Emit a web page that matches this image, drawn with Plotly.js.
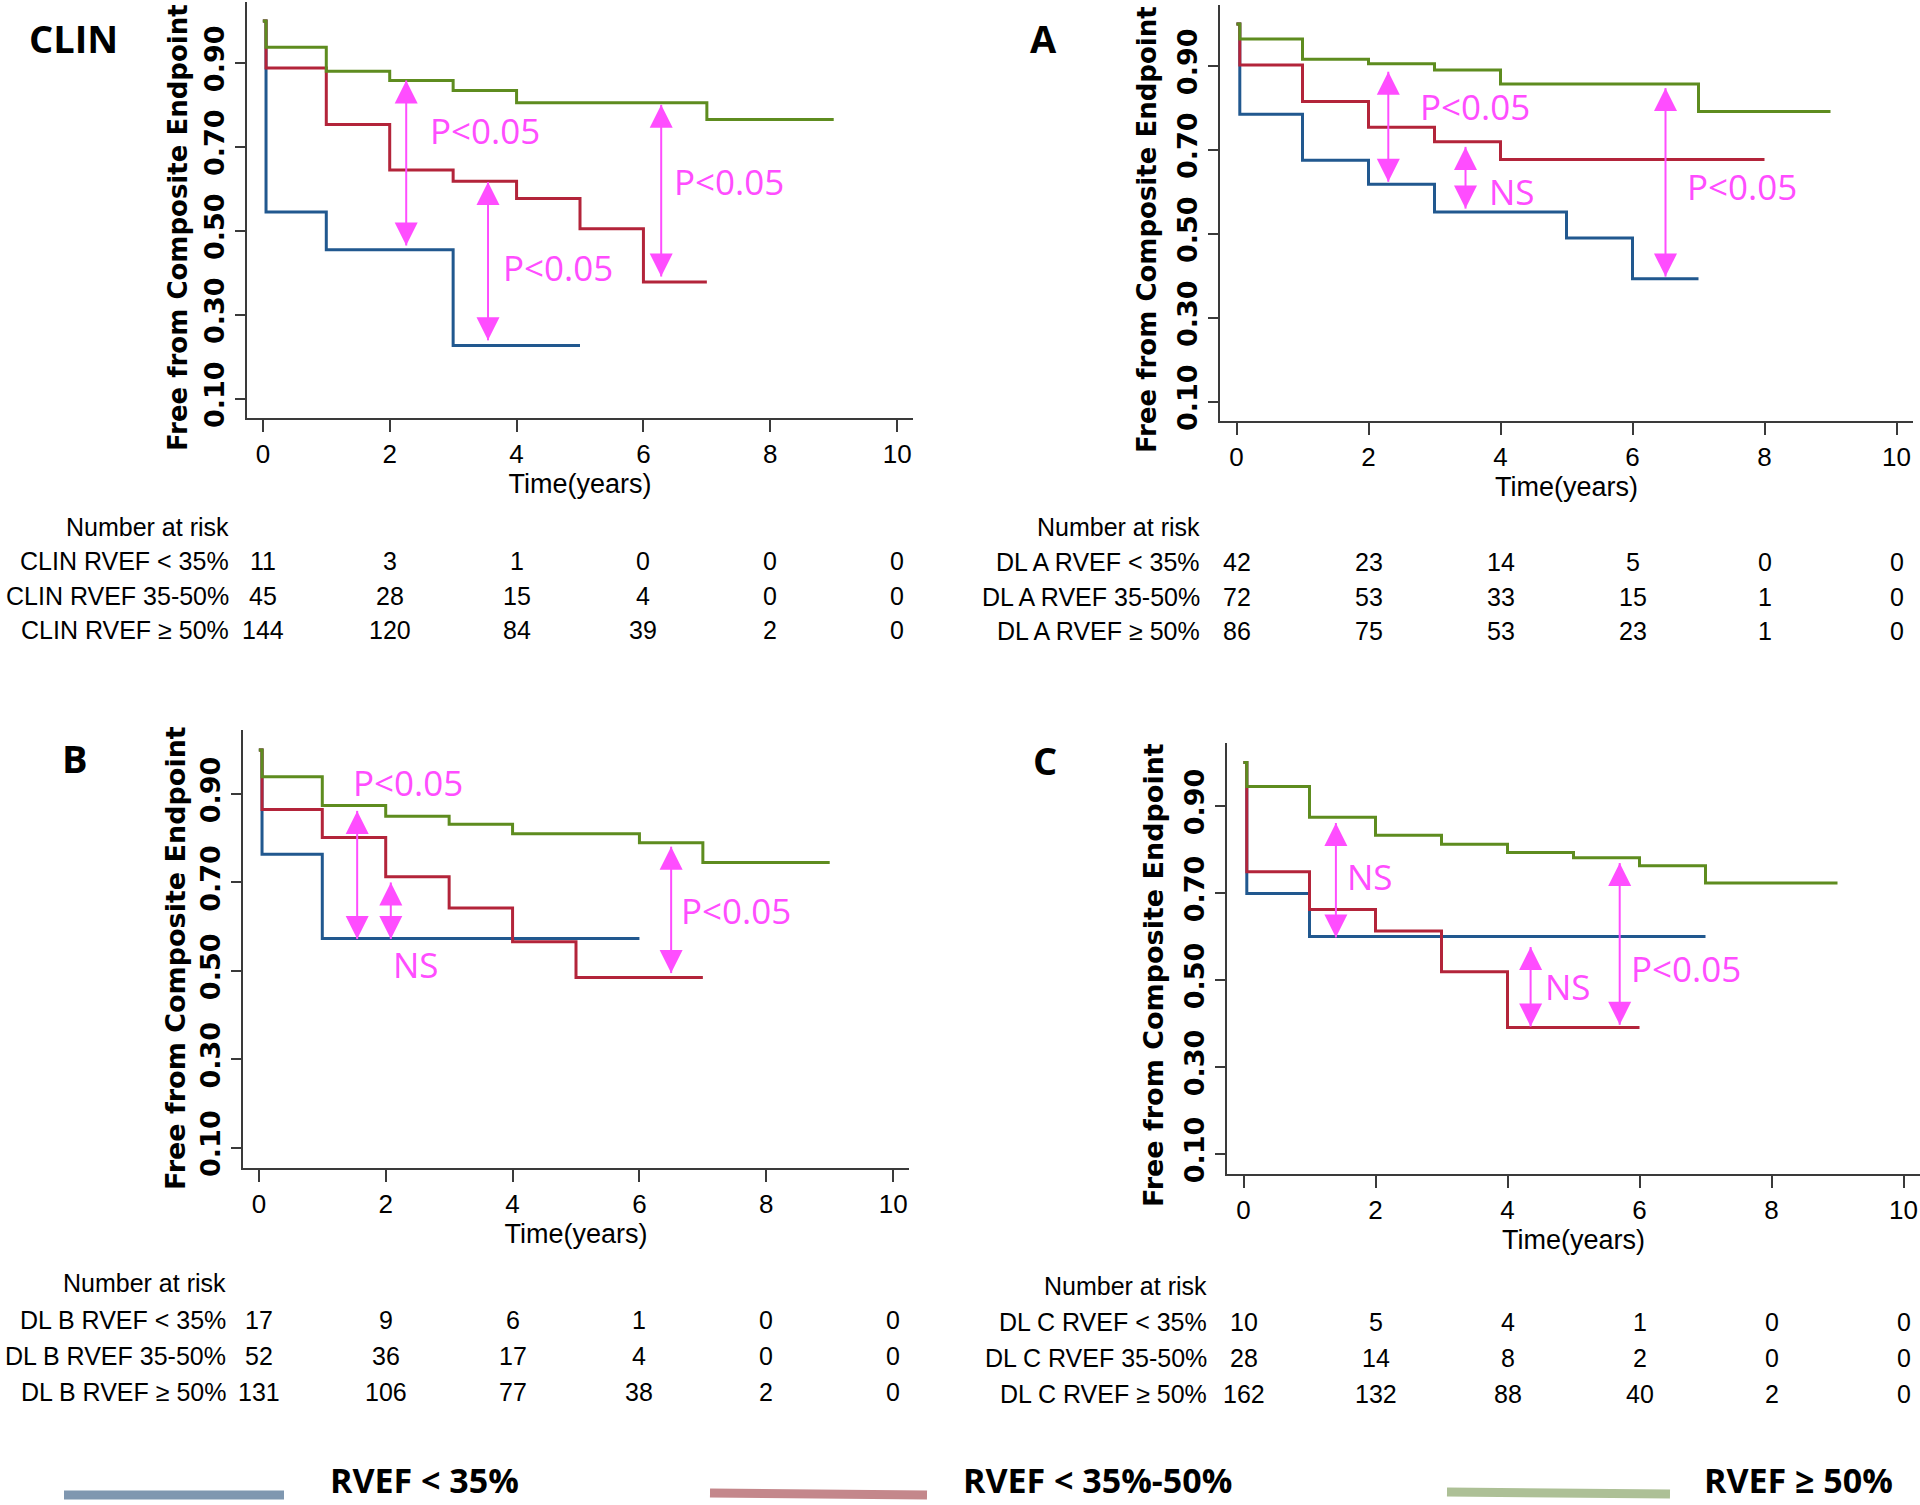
<!DOCTYPE html>
<html>
<head>
<meta charset="utf-8">
<script src="https://cdn.plot.ly/plotly-3.0.1.min.js"></script>
<style>
  html, body { margin: 0; padding: 0; background: #fff; }
  #chart { width: 1920px; height: 1505px; }
</style>
</head>
<body>
<div id="chart"></div>
<script>
// ---------- data ----------
const riskTimes = [0, 2, 4, 6, 8, 10];
const yTicks = [0.1, 0.3, 0.5, 0.7, 0.9];
const groupNames = ['RVEF < 35%', 'RVEF 35-50%', 'RVEF \u2265 50%'];
const legendNames = ['RVEF < 35%', 'RVEF < 35%-50%', 'RVEF \u2265 50%'];

// CLIN
const clinLowT = [0, 0.05, 1, 3, 5];
const clinLowS = [1, 0.545, 0.455, 0.227, 0.227];
const clinMidT = [0, 0.05, 1, 2, 3, 4, 5, 6, 7];
const clinMidS = [1, 0.888, 0.753, 0.645, 0.618, 0.577, 0.505, 0.378, 0.378];
const clinHighT = [0, 0.05, 1, 2, 3, 4, 7, 9];
const clinHighS = [1, 0.937, 0.880, 0.858, 0.834, 0.805, 0.765, 0.765];
const clinRiskLow = [11, 3, 1, 0, 0, 0];
const clinRiskMid = [45, 28, 15, 4, 0, 0];
const clinRiskHigh = [144, 120, 84, 39, 2, 0];
const clinArrowX = [2.26, 3.55, 6.28];
const clinArrowTop = [0.858, 0.616, 0.800];
const clinArrowBot = [0.465, 0.239, 0.391];
const clinNoteX = [2.6, 3.75, 6.45];
const clinNoteY = [0.739, 0.413, 0.618];
const clinNoteText = ['P<0.05', 'P<0.05', 'P<0.05'];

// DL A
const aLowT = [0, 0.05, 1, 2, 3, 5, 6, 7];
const aLowS = [1, 0.785, 0.675, 0.618, 0.552, 0.490, 0.393, 0.393];
const aMidT = [0, 0.05, 1, 2, 3, 4, 8];
const aMidS = [1, 0.902, 0.815, 0.754, 0.719, 0.677, 0.677];
const aHighT = [0, 0.05, 1, 2, 3, 4, 7, 9];
const aHighS = [1, 0.964, 0.916, 0.905, 0.890, 0.857, 0.791, 0.791];
const aRiskLow = [42, 23, 14, 5, 0, 0];
const aRiskMid = [72, 53, 33, 15, 1, 0];
const aRiskHigh = [86, 75, 53, 23, 1, 0];
const aArrowX = [2.30, 3.47, 6.50];
const aArrowTop = [0.886, 0.707, 0.847];
const aArrowBot = [0.624, 0.560, 0.398];
const aNoteX = [2.75, 3.79, 6.79];
const aNoteY = [0.804, 0.600, 0.612];
const aNoteText = ['P<0.05', 'NS', 'P<0.05'];

// DL B
const bLowT = [0, 0.05, 1, 6];
const bLowS = [1, 0.764, 0.573, 0.573];
const bMidT = [0, 0.05, 1, 2, 3, 4, 5, 7];
const bMidS = [1, 0.865, 0.802, 0.713, 0.642, 0.566, 0.485, 0.485];
const bHighT = [0, 0.05, 1, 2, 3, 4, 6, 7, 9];
const bHighS = [1, 0.939, 0.874, 0.850, 0.832, 0.810, 0.790, 0.745, 0.745];
const bRiskLow = [17, 9, 6, 1, 0, 0];
const bRiskMid = [52, 36, 17, 4, 0, 0];
const bRiskHigh = [131, 106, 77, 38, 2, 0];
const bArrowX = [1.55, 2.08, 6.50];
const bArrowTop = [0.862, 0.700, 0.781];
const bArrowBot = [0.572, 0.572, 0.495];
const bNoteX = [1.46, 2.09, 6.63];
const bNoteY = [0.927, 0.515, 0.636];
const bNoteText = ['P<0.05', 'NS', 'P<0.05'];

// DL C
const cLowT = [0, 0.05, 1, 7];
const cLowS = [1, 0.699, 0.600, 0.600];
const cMidT = [0, 0.05, 1, 2, 3, 4, 6];
const cMidS = [1, 0.749, 0.662, 0.613, 0.519, 0.391, 0.391];
const cHighT = [0, 0.05, 1, 2, 3, 4, 5, 6, 7, 9];
const cHighS = [1, 0.945, 0.874, 0.833, 0.812, 0.793, 0.781, 0.763, 0.723, 0.723];
const cRiskLow = [10, 5, 4, 1, 0, 0];
const cRiskMid = [28, 14, 8, 2, 0, 0];
const cRiskHigh = [162, 132, 88, 40, 2, 0];
const cArrowX = [1.40, 4.35, 5.70];
const cArrowTop = [0.861, 0.576, 0.769];
const cArrowBot = [0.598, 0.393, 0.397];
const cNoteX = [1.54, 4.54, 5.84];
const cNoteY = [0.737, 0.484, 0.527];
const cNoteText = ['NS', 'NS', 'P<0.05'];

// ---------- look ----------
const W = 1920, H = 1505;
const px = v => v / W;
const py = v => 1 - v / H;

const lineColors = ['#21588f', '#b3243a', '#5e8c1f'];
const legendColors = ['#7f97b0', '#c4878b', '#adc096'];
const magenta = '#ff4dff';
const axisColor = '#3a3a3a';
const sans = 'Liberation Sans, Arial, sans-serif';

const panels = [
  { letter: 'CLIN', letterPos: [27, 38], prefix: 'CLIN', xa: 'x', ya: 'y', box: [247, 913, 2, 418], xmax: 10.25,
    yTitle: [178, 228, 26], tableRight: 231, tableY: [527, 561, 596, 630],
    curves: [[clinLowT, clinLowS], [clinMidT, clinMidS], [clinHighT, clinHighS]],
    risk: [clinRiskLow, clinRiskMid, clinRiskHigh],
    arrows: [clinArrowX, clinArrowTop, clinArrowBot], notes: [clinNoteX, clinNoteY, clinNoteText] },
  { letter: 'A', letterPos: [1028, 38], prefix: 'DL A', xa: 'x2', ya: 'y2', box: [1220, 1913, 5, 421], xmax: 10.25,
    yTitle: [1147, 230, 26], tableRight: 1202, tableY: [527, 562, 597, 631],
    curves: [[aLowT, aLowS], [aMidT, aMidS], [aHighT, aHighS]],
    risk: [aRiskLow, aRiskMid, aRiskHigh],
    arrows: [aArrowX, aArrowTop, aArrowBot], notes: [aNoteX, aNoteY, aNoteText] },
  { letter: 'B', letterPos: [60, 758], prefix: 'DL B', xa: 'x3', ya: 'y3', box: [243, 909, 730, 1168], xmax: 10.25,
    yTitle: [175, 958, 27], tableRight: 228, tableY: [1283, 1320, 1356, 1392],
    curves: [[bLowT, bLowS], [bMidT, bMidS], [bHighT, bHighS]],
    risk: [bRiskLow, bRiskMid, bRiskHigh],
    arrows: [bArrowX, bArrowTop, bArrowBot], notes: [bNoteX, bNoteY, bNoteText] },
  { letter: 'C', letterPos: [1031, 760], prefix: 'DL C', xa: 'x4', ya: 'y4', box: [1227, 1920, 743, 1174], xmax: 10.25,
    yTitle: [1153, 975, 27], tableRight: 1209, tableY: [1286, 1322, 1358, 1394],
    curves: [[cLowT, cLowS], [cMidT, cMidS], [cHighT, cHighS]],
    risk: [cRiskLow, cRiskMid, cRiskHigh],
    arrows: [cArrowX, cArrowTop, cArrowBot], notes: [cNoteX, cNoteY, cNoteText] }
];

const traces = [];
const annotations = [];
const layout = {
  width: W, height: H,
  margin: { l: 0, r: 0, t: 0, b: 0 },
  paper_bgcolor: '#fff', plot_bgcolor: '#fff',
  showlegend: false,
  font: { family: sans, color: '#000' },
  shapes: [],
  annotations: annotations
};

panels.forEach((p, i) => {
  const n = i === 0 ? '' : String(i + 1);
  layout['xaxis' + n] = {
    domain: [px(p.box[0]), px(p.box[1])],
    anchor: p.ya,
    range: [-0.25, p.xmax],
    tickvals: riskTimes,
    ticks: 'outside', ticklen: 12, tickwidth: 2, tickcolor: axisColor,
    showline: true, linewidth: 2, linecolor: axisColor,
    showgrid: false, zeroline: false,
    tickfont: { family: sans, size: 26, color: '#000' },
    title: { text: 'Time(years)', font: { family: sans, size: 27, color: '#000' }, standoff: 2 }
  };
  layout['yaxis' + n] = {
    domain: [py(p.box[3]), py(p.box[2])],
    anchor: p.xa,
    range: [0.054, 1.045],
    tickvals: yTicks,
    tickformat: '.2f',
    tickangle: -90,
    ticks: 'outside', ticklen: 10, tickwidth: 2, tickcolor: axisColor,
    showline: true, linewidth: 2, linecolor: axisColor,
    showgrid: false, zeroline: false,
    tickfont: { family: 'DejaVu Sans', size: 27, weight: 'bold', color: '#000' }
  };

  // y axis title, placed like the original (it runs past the plot bottom)
  annotations.push({
    xref: 'paper', yref: 'paper', x: px(p.yTitle[0]), y: py(p.yTitle[1]),
    text: 'Free from Composite Endpoint', textangle: -90, showarrow: false,
    xanchor: 'center', yanchor: 'middle',
    font: { family: 'DejaVu Sans', size: p.yTitle[2], weight: 'bold', color: '#000' }
  });

  // survival curves
  p.curves.forEach((c, k) => {
    traces.push({
      x: c[0], y: c[1], xaxis: p.xa, yaxis: p.ya,
      type: 'scatter', mode: 'lines',
      line: { shape: 'hv', color: lineColors[k], width: 3 },
      hoverinfo: 'skip'
    });
  });

  // double headed arrows: shafts plus arrow-shaped markers at both ends
  const [ax, aTop, aBot] = p.arrows;
  const sx = [], sy = [];
  ax.forEach((xv, k) => { sx.push(xv, xv, null); sy.push(aBot[k], aTop[k], null); });
  traces.push({
    x: sx, y: sy, xaxis: p.xa, yaxis: p.ya, type: 'scatter', mode: 'lines',
    line: { color: magenta, width: 2 }, hoverinfo: 'skip'
  });
  traces.push({
    x: ax.concat(ax), y: aTop.concat(aBot), xaxis: p.xa, yaxis: p.ya,
    type: 'scatter', mode: 'markers', hoverinfo: 'skip',
    marker: { symbol: ax.map(() => 'arrow-up').concat(ax.map(() => 'arrow-down')),
              size: 23, color: magenta, line: { width: 0 } }
  });

  const [nx, ny, nt] = p.notes;
  nx.forEach((xv, k) => {
    annotations.push({
      xref: p.xa, yref: p.ya, x: xv, y: ny[k], text: nt[k],
      showarrow: false, xanchor: 'left', yanchor: 'middle',
      font: { family: 'Open Sans', size: 35, color: magenta }
    });
  });

  // panel letter
  annotations.push({
    xref: 'paper', yref: 'paper', x: px(p.letterPos[0]), y: py(p.letterPos[1]),
    text: p.letter, showarrow: false, xanchor: 'left', yanchor: 'middle',
    font: { family: 'Open Sans', size: 38, weight: 'bold', color: '#000' }
  });

  // number at risk table
  const tblFont = { family: sans, size: 25, color: '#000' };
  annotations.push({
    xref: 'paper', yref: 'paper', x: px(p.tableRight), y: py(p.tableY[0]),
    text: 'Number at risk', showarrow: false, xanchor: 'right', yanchor: 'middle', font: tblFont
  });
  p.risk.forEach((row, r) => {
    annotations.push({
      xref: 'paper', yref: 'paper', x: px(p.tableRight), y: py(p.tableY[r + 1]),
      text: p.prefix + ' ' + groupNames[r], showarrow: false, xanchor: 'right', yanchor: 'middle', font: tblFont
    });
    row.forEach((v, j) => {
      annotations.push({
        xref: p.xa, yref: 'paper', x: riskTimes[j], y: py(p.tableY[r + 1]),
        text: String(v), showarrow: false, xanchor: 'center', yanchor: 'middle', font: tblFont
      });
    });
  });
});

// bottom key
const keyLines = [[64, 1495, 284, 1495], [710, 1493, 927, 1495], [1447, 1492, 1670, 1494]];
const keyTextX = [328, 961, 1702];
legendNames.forEach((name, k) => {
  const s = keyLines[k];
  layout.shapes.push({
    type: 'line', xref: 'paper', yref: 'paper',
    x0: px(s[0]), y0: py(s[1]), x1: px(s[2]), y1: py(s[3]),
    line: { color: legendColors[k], width: 9 }
  });
  annotations.push({
    xref: 'paper', yref: 'paper', x: px(keyTextX[k]), y: py(1505),
    text: name, showarrow: false, xanchor: 'left', yanchor: 'bottom',
    font: { family: 'Open Sans', size: 34, weight: 'bold', color: '#000' }
  });
});

Plotly.newPlot('chart', traces, layout, { staticPlot: true });
</script>
</body>
</html>
